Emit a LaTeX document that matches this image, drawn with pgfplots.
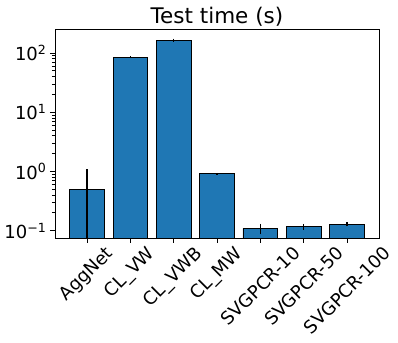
\documentclass[border=0pt]{standalone}
\usepackage{fontspec}
\setmainfont{DejaVu Sans}
\usepackage{pgfplots}
\pgfplotsset{compat=1.18}
\definecolor{mplblue}{HTML}{1F77B4}

\begin{document}
\begin{tikzpicture}
\useasboundingbox (-55pt,-104pt) rectangle (343pt,238pt);
\begin{axis}[
  scale only axis,
  width=324pt, height=209pt,
  ymode=log,
  log origin y=infty,
  ymin=0.0753, ymax=253.8,
  xmin=-0.74, xmax=6.74,
  ybar, bar width=0.8, bar shift=0pt,
  xtick={0,...,6},
  xticklabels={
    \rotatebox{45}{AggNet},
    \rotatebox{45}{CL\_VW},
    \rotatebox{45}{CL\_VWB},
    \rotatebox{45}{CL\_MW},
    \rotatebox{45}{SVGPCR-10},
    \rotatebox{45}{SVGPCR-50},
    \rotatebox{45}{SVGPCR-100}},
  ytick={0.1,1,10,100},
  yticklabels={10\textsuperscript{−1},10\textsuperscript{0},10\textsuperscript{1},10\textsuperscript{2}},
  xticklabel style={anchor=north, font=\fontsize{18}{21}\selectfont, inner sep=2pt},
  yticklabel style={font=\fontsize{18}{21}\selectfont},
  tick align=outside,
  xtick pos=bottom, ytick pos=left,
  major tick length=5pt, minor tick length=3pt,
  every tick/.style={black, line width=0.8pt},
  axis line style={black, line width=0.8pt},
  title={Test time (s)},
  title style={font=\fontsize{21.5}{25}\selectfont, yshift=-7pt},
]
\addplot[
  fill=mplblue, draw=black, line width=0.8pt,
  error bars/.cd, y dir=both, y explicit,
  error mark=none,
  error bar style={black, line width=1.5pt},
] coordinates {
  (0, 0.50)  +- (0, 0.49)
  (1, 84.6)  +- (0, 3.0)
  (2, 165)   +- (0, 10)
  (3, 0.92)  +- (0, 0.03)
  (4, 0.109) +- (0, 0.022)
  (5, 0.117) +- (0, 0.014)
  (6, 0.129) +- (0, 0.011)
};
% AggNet upper error reaches about 1.12
\addplot[
  draw=none, fill=none, forget plot,
  error bars/.cd, y dir=plus, y explicit,
  error mark=none,
  error bar style={black, line width=1.5pt},
] coordinates {
  (0, 0.50) += (0, 0.62)
};
\end{axis}
\end{tikzpicture}
\end{document}
